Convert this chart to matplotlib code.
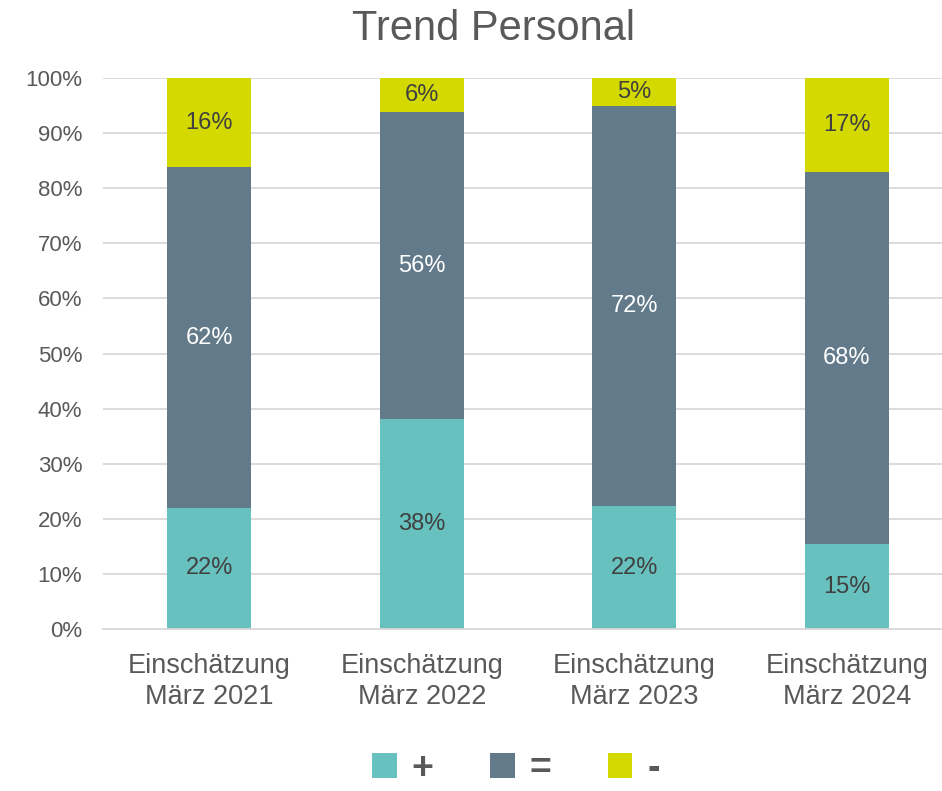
import matplotlib.pyplot as plt
import numpy as np

plt.rcParams['font.family'] = ['Liberation Sans', 'DejaVu Sans']

categories = ["Einschätzung\nMärz 2021", "Einschätzung\nMärz 2022",
              "Einschätzung\nMärz 2023", "Einschätzung\nMärz 2024"]
plus = [22.0, 38.1, 22.3, 15.4]
equal = [61.8, 55.7, 72.6, 67.5]
minus = [16.2, 6.2, 5.1, 17.1]
plus_labels = ["22%", "38%", "22%", "15%"]
equal_labels = ["62%", "56%", "72%", "68%"]
minus_labels = ["16%", "6%", "5%", "17%"]

TEAL = "#67C2BF"
SLATE = "#627A89"
LIME = "#D4D900"
TEXT = "#595959"

W, H = 942, 791
fig = plt.figure(figsize=(W / 100, H / 100), dpi=100)
ax = fig.add_axes([103 / W, 1 - 629 / H, 850 / W, (629 - 78) / H])

x = np.arange(len(categories))
width = 0.395
b1 = ax.bar(x, plus, width, color=TEAL, label="+", zorder=2)
b2 = ax.bar(x, equal, width, bottom=plus, color=SLATE, label="=", zorder=2)
bottom3 = np.array(plus) + np.array(equal)
b3 = ax.bar(x, minus, width, bottom=bottom3, color=LIME, label="-", zorder=2)

ax.bar_label(b1, labels=plus_labels, label_type="center", color="#404040", fontsize=17)
ax.bar_label(b2, labels=equal_labels, label_type="center", color="white", fontsize=17)
ax.bar_label(b3, labels=minus_labels, label_type="center", color="#404040", fontsize=17)

ax.set_xlim(-0.5, 3.5)
ax.set_ylim(0, 100)
ax.set_yticks(range(0, 101, 10))
ax.set_yticklabels([f"{v}%" for v in range(0, 101, 10)])
ax.set_xticks(x)
ax.set_xticklabels(categories, linespacing=1.25)
ax.yaxis.grid(True, color="#D9D9D9", linewidth=1.3, zorder=0)
ax.set_axisbelow(True)
for s in ["top", "right", "left"]:
    ax.spines[s].set_visible(False)
ax.spines["bottom"].set_color("#D9D9D9")
ax.spines["bottom"].set_linewidth(1.3)
ax.tick_params(axis="y", length=0, labelsize=16, labelcolor=TEXT, pad=15)
ax.tick_params(axis="x", length=0, labelsize=19.5, labelcolor=TEXT, pad=17)

fig.text(493 / W, 1 - 29 / H, "Trend Personal", ha="center", va="center",
         fontsize=30, color=TEXT)

leg = fig.legend(handles=[b1, b2, b3], loc="center", bbox_to_anchor=(516 / W, 1 - 769 / H),
                 ncol=3, frameon=False, fontsize=27, handlelength=0.66, handleheight=0.66,
                 columnspacing=1.5, handletextpad=0.4, borderpad=0, borderaxespad=0)
for t in leg.get_texts():
    t.set_color(TEXT)
    t.set_fontweight("bold")

fig.savefig("out.png", dpi=100)
